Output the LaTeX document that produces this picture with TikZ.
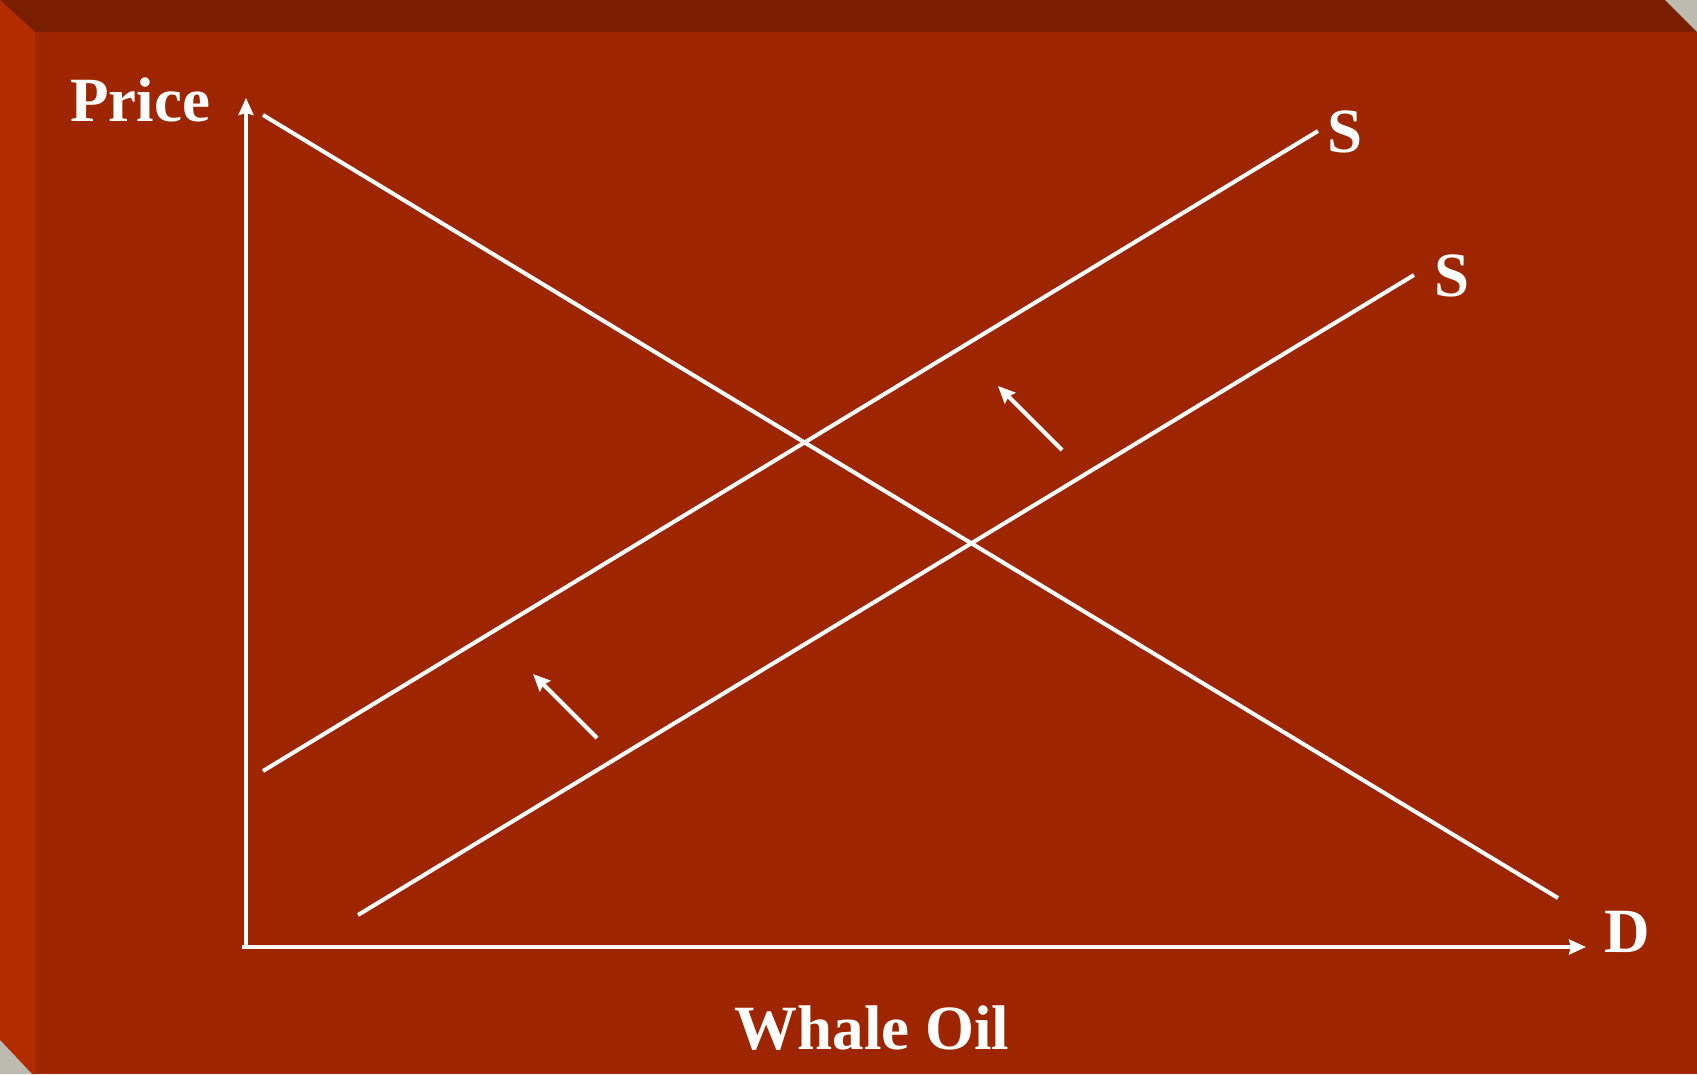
\documentclass[tikz,border=0pt]{standalone}
\usepackage{fontspec}
\setmainfont{Liberation Serif}
\usetikzlibrary{arrows.meta}
\definecolor{slidered}{HTML}{9D2600}
\definecolor{slidetop}{HTML}{7A1E00}
\definecolor{slideleft}{HTML}{B32C00}
\definecolor{slidegrey}{HTML}{BDBAB0}
\tikzset{
    curve/.style={white,line width=4pt},
    shiftarrow/.style={->,white,line width=4pt},
    lbl/.style={white,inner sep=0pt,font=\bfseries\fontsize{63}{70}\selectfont},
}
\begin{document}
\begin{tikzpicture}[x=1pt,y=-1pt,>={Stealth[length=17pt,width=15pt,inset=2pt]}]
        \useasboundingbox (0,0) rectangle (1697,1074);
        % slide frame
        \fill[slidered] (0,0) rectangle (1697,1074);
        \fill[slidetop] (0,0) -- (1665,0) -- (1697,32) -- (35,32) -- cycle;
        \fill[slideleft] (0,0) -- (35,32) -- (35,1074) -- (32,1074) -- (0,1040) -- cycle;
        \fill[slidegrey] (1665,0) -- (1697,0) -- (1697,32) -- cycle;
        \fill[slidegrey] (0,1040) -- (0,1074) -- (32,1074) -- cycle;

        % axes
        \coordinate (origin) at (246,947);
        \coordinate (ytop) at (246,98);
        \coordinate (xend) at (1586,947);
        \draw[->,white,line width=3.5pt] (origin) -- (ytop);
        \draw[->,white,line width=3.5pt] (242,947) -- (xend);

        % demand and supply
        \coordinate (d1) at (263,115);
        \coordinate (d2) at (1558,898);
        \coordinate (sa1) at (263,771);
        \coordinate (sa2) at (1318,131);
        \coordinate (sb1) at (358,915);
        \coordinate (sb2) at (1414,275);
        \draw[curve] (d1) -- (d2);
        \draw[curve] (sa1) -- (sa2);
        \draw[curve] (sb1) -- (sb2);

        % shift arrows
        \coordinate (u1) at (1062,450);
        \coordinate (u2) at (998,386);
        \coordinate (v1) at (597,738);
        \coordinate (v2) at (533,674);
        \draw[shiftarrow] (u1) -- (u2);
        \draw[shiftarrow] (v1) -- (v2);

        % labels
        \node[lbl] (price) at (140,100) {Price};
        \node[lbl] (qty) at (872,1028) {Whale Oil};
        \node[lbl] (s1) at (1345,132) {S};
        \node[lbl] (s2) at (1452,276) {S};
        \node[lbl] (dlab) at (1627,932) {D};
    \end{tikzpicture}
\end{document}
